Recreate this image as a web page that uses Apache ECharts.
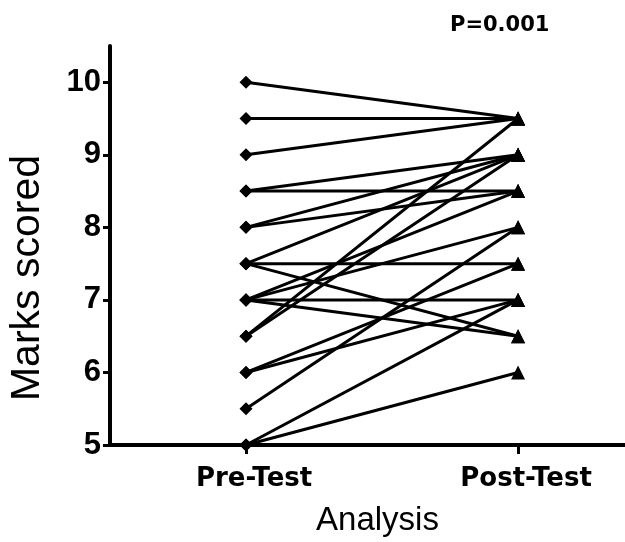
<!DOCTYPE html>
<html>
<head>
<meta charset="utf-8">
<script src="https://cdn.jsdelivr.net/npm/echarts@6/dist/echarts.min.js"></script>
<style>
  html, body { margin: 0; padding: 0; background: #fff; }
  #chart { width: 625px; height: 542px; }
</style>
</head>
<body>
<div id="chart"></div>
<script>
const categories = ['Pre-Test', 'Post-Test'];
const preScores  = [10, 9.5, 9, 8.5, 8.5, 8, 8, 7.5, 7.5, 7.5, 7, 7, 7, 7, 6.5, 6.5, 6, 6, 5.5, 5, 5];
const postScores = [9.5, 9.5, 9.5, 9, 8.5, 9, 8.5, 9, 7.5, 6.5, 8.5, 8, 7, 6.5, 9.5, 9, 7.5, 7, 8, 7, 6];
const yTicks = [5, 6, 7, 8, 9, 10];
const pLabel = 'P=0.001';
const xTitle = 'Analysis';
const yTitle = 'Marks scored';

const series = preScores.map((pre, i) => ({
  type: 'line',
  silent: true,
  symbolSize: 13,
  lineStyle: { color: '#000', width: 3 },
  itemStyle: { color: '#000' },
  data: [
    { value: [0, pre], symbol: 'diamond' },
    { value: [1, postScores[i]], symbol: 'triangle', symbolSize: 14 }
  ]
}));

const chart = echarts.init(document.getElementById('chart'));
chart.setOption({
  animation: false,
  backgroundColor: '#fff',
  grid: { left: 110, right: 0, top: 46, bottom: 91 },
  title: {
    text: pLabel, left: 445, top: 10,
    textStyle: { fontFamily: 'DejaVu Sans', fontWeight: 'bold', fontSize: 21, color: '#000' }
  },
  graphic: [{
    type: 'text',
    x: 28, y: 278,
    rotation: Math.PI / 2,
    style: {
      text: yTitle, fill: '#000',
      font: '41px "Liberation Sans"',
      align: 'center', verticalAlign: 'middle'
    }
  }],
  xAxis: {
    type: 'value', min: -0.5, max: 1.393,
    name: xTitle, nameLocation: 'middle', nameGap: 59,
    nameTextStyle: { fontFamily: 'Liberation Sans', fontSize: 33, color: '#000', padding: [0, 0, 0, 20] },
    splitLine: { show: false },
    axisLine: { show: true, onZero: false, lineStyle: { color: '#000', width: 4 } },
    axisTick: { show: true, customValues: [0, 1], length: 9, lineStyle: { color: '#000', width: 3 } },
    axisLabel: {
      customValues: [0, 1], margin: 21, padding: [0, 0, 0, 16],
      formatter: v => categories[Math.round(v)] || '',
      fontFamily: 'DejaVu Sans', fontWeight: 'bold', fontSize: 26, color: '#000'
    }
  },
  yAxis: {
    type: 'value', min: 5, max: 10.5,
    splitLine: { show: false },
    axisLine: { show: true, onZero: false, lineStyle: { color: '#000', width: 4 } },
    axisTick: { show: true, customValues: yTicks, length: 7, lineStyle: { color: '#000', width: 3 } },
    axisLabel: {
      customValues: yTicks, margin: 9,
      fontFamily: 'Liberation Sans', fontWeight: 'bold', fontSize: 31, color: '#000'
    }
  },
  series: series
});
</script>
</body>
</html>
